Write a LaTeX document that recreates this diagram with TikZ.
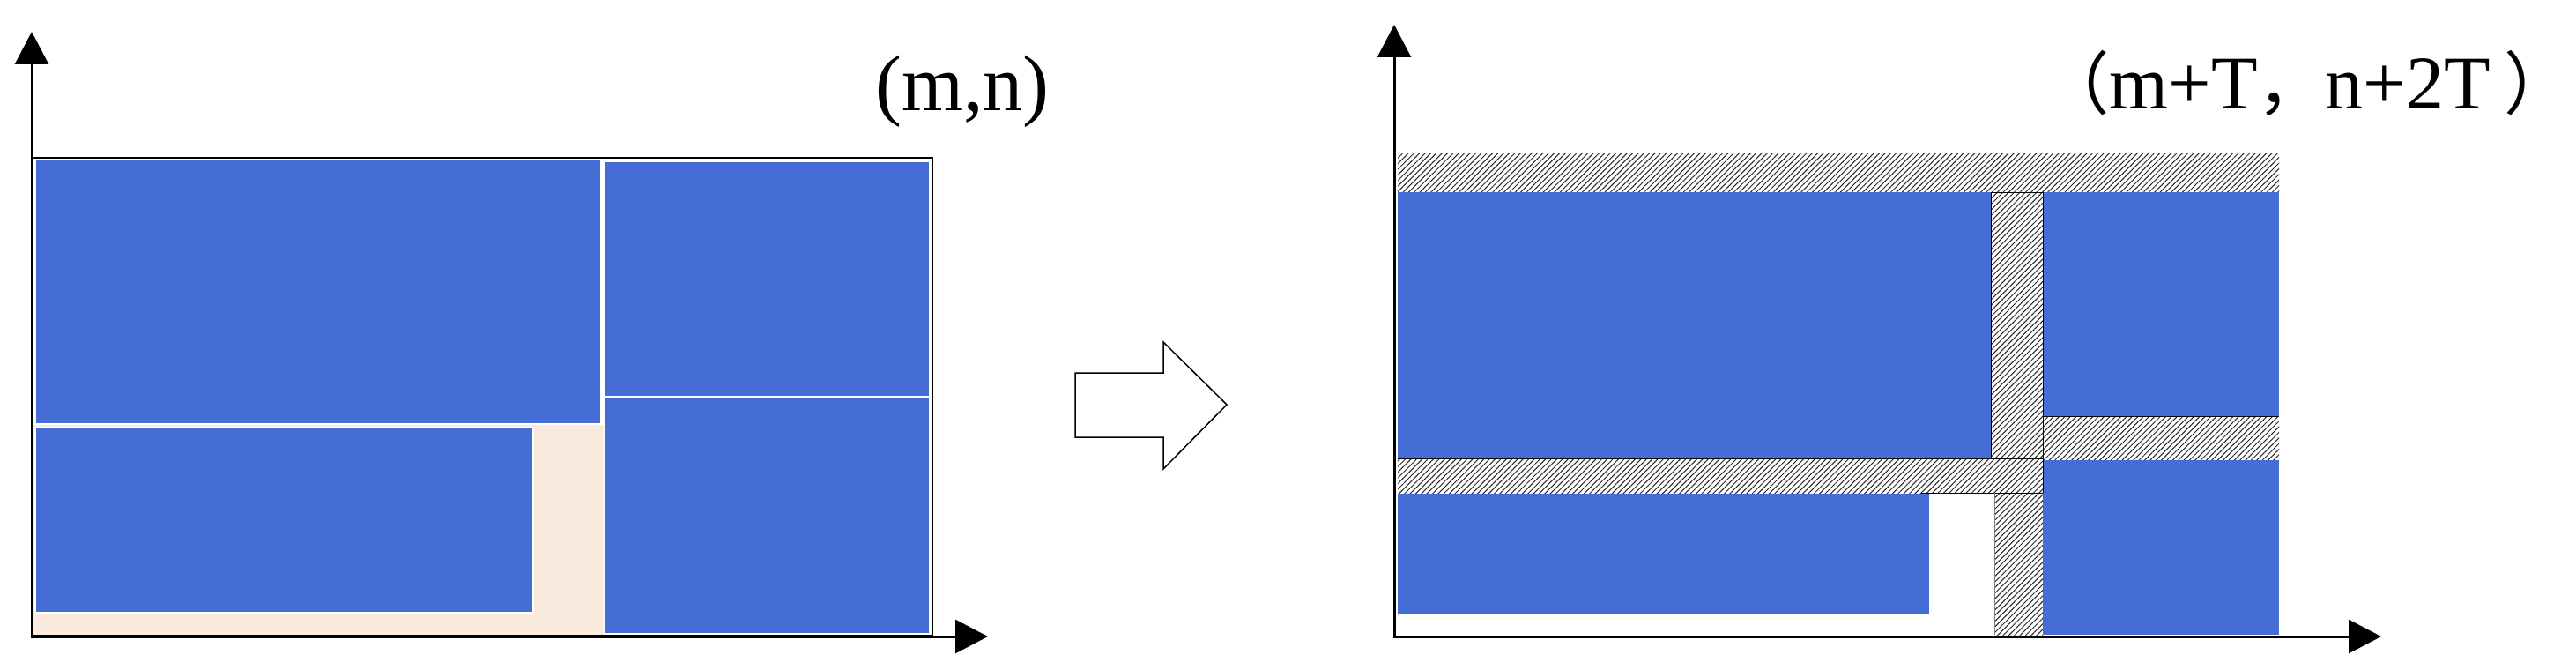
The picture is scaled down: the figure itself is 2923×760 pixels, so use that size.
\documentclass[tikz,border=0pt]{standalone}
\usepackage{fontspec}
\setmainfont{Liberation Serif}
\newfontfamily\cjk[Scale=0.9]{Noto Sans CJK SC}
\usetikzlibrary{arrows.meta,patterns.meta}
\definecolor{boxblue}{RGB}{70,108,214}
\definecolor{peach}{RGB}{251,234,222}
\begin{document}
\begin{tikzpicture}[x=1pt,y=-1pt,
  axis/.style={line width=3pt,-{Triangle[length=37pt,width=38pt]}},
  rbox/.style={fill=boxblue},
  lbox/.style={fill=boxblue,draw=white,line width=2pt},
  hatch/.style={pattern={Lines[angle=45,distance=4.5pt,line width=1pt]},pattern color=black!85},
  edge/.style={line width=1pt,draw=black},
  lab/.style={font=\fontsize{90}{100}\selectfont,inner sep=0pt},
  labr/.style={font=\fontsize{86}{96}\selectfont,inner sep=0pt}]
\useasboundingbox (0,0) rectangle (2923,760);
% ---------- left panel ----------
\draw[line width=1.5pt] (36,179) rectangle (1058,721);
\fill[peach] (38,482) rectangle (685,720);
\draw[lbox] (39.5,181) rectangle (682,481);
\draw[lbox] (686,182.5) rectangle (1055,449.5);
\draw[lbox] (686,450.5) rectangle (1055,718.5);
\draw[lbox] (39.5,485) rectangle (605,695);
\coordinate (LO) at (36,722);
\coordinate (LY) at (36,36);
\coordinate (LX) at (1121,722);
\draw[axis] (36,723.5) -- (LY);
\draw[axis] (LO) -- (LX);
\node[lab,anchor=base west] (t1) at (993,125) {(m,n)};
% ---------- block arrow ----------
\coordinate (a1) at (1220,423);
\coordinate (a2) at (1320,423);
\coordinate (a3) at (1320,388);
\coordinate (a4) at (1392,459);
\coordinate (a5) at (1320,532);
\coordinate (a6) at (1320,496);
\coordinate (a7) at (1220,496);
\draw[line width=1.5pt,fill=white,line join=miter] (a1) -- (a2) -- (a3) -- (a4) -- (a5) -- (a6) -- (a7) -- cycle;
% ---------- right panel ----------
\fill[hatch] (1586,174) rectangle (2586,217);
\fill[rbox] (1586,218) rectangle (2259,520);
\fill[hatch] (2259,218) rectangle (2318,520);
\fill[rbox] (2319,218) rectangle (2586,472);
\fill[hatch] (2318,472) rectangle (2586,521);
\fill[rbox] (2318,522) rectangle (2586,720);
\fill[hatch] (1586,520) rectangle (2318,559);
\fill[rbox] (1586,560) rectangle (2189,696);
\fill[hatch] (2263,559) rectangle (2318,720);
\draw[edge] (2259,520) -- (2259,218) -- (2318,218) -- (2318,559);
\draw[edge] (2318,472) -- (2586,472);
\draw[edge] (1586,520) -- (2318,520);
\draw[edge] (2180,559) -- (2318,559);
\draw[line width=1pt,draw=black!50] (2263,559) -- (2263,720);
\coordinate (RO) at (1582,722);
\coordinate (RY) at (1582,28);
\coordinate (RX) at (2702,722);
\draw[axis] (1582,723.5) -- (RY);
\draw[axis] (RO) -- (RX);
\node[labr,anchor=base west] (t2) at (2316,123) {{\cjk （}m+T{\cjk ，}n+2T\kern16pt{\cjk ）}};
\end{tikzpicture}
\end{document}
